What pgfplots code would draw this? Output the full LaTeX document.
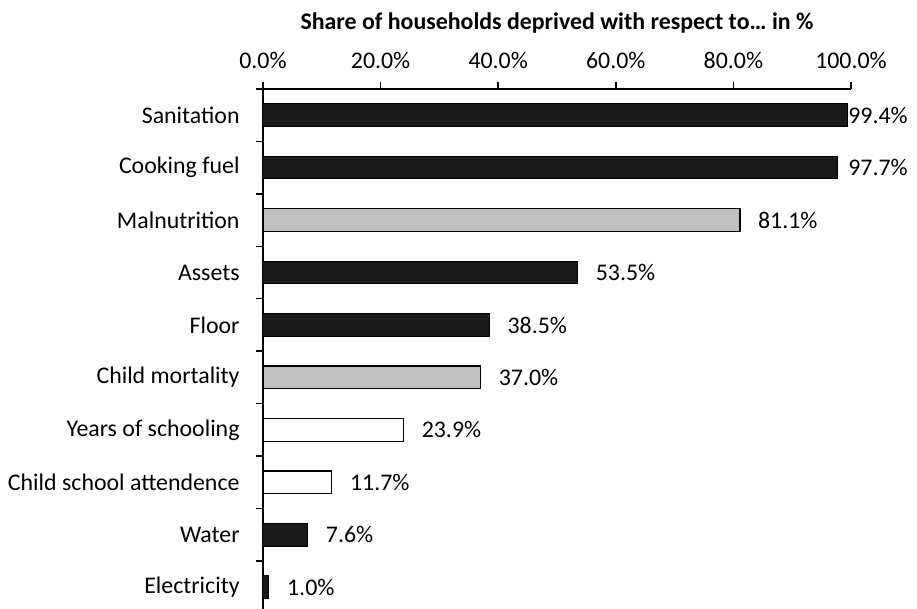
\documentclass[border=0pt]{standalone}
\usepackage{fontspec}
\setmainfont{Carlito}
\usepackage{pgfplots}
\pgfplotsset{compat=1.18}
\definecolor{barblack}{HTML}{1A1A1A}
\definecolor{bargray}{HTML}{BFBFBF}
\begin{document}
\fontsize{17.9}{21}\selectfont
\begin{tikzpicture}
\begin{axis}[
  at={(0,0)}, anchor=south west,
  scale only axis, width=441pt, height=390pt,
  xmin=0, xmax=100, ymin=-0.416, ymax=9.5,
  clip=false,
  axis x line*=top, axis y line*=left,
  axis line style={line width=1.1pt, black},
  every tick/.style={line width=1.1pt, black},
  tick align=outside,
  major tick length=5.6pt,
  /pgf/number format/assume math mode=true,
  xtick={0,20,40,60,80,100},
  xticklabels={0.0\%,20.0\%,40.0\%,60.0\%,80.0\%,100.0\%},
  xticklabel style={anchor=base, yshift=9.4pt},
  ytick={0.5,1.5,...,9.5},
  yticklabels={},
  extra y ticks={0,1,2,3,4,5,6,7,8,9},
  extra y tick labels={Electricity, Water, Child school attendence, Years of schooling, Child mortality, Floor, Assets, Malnutrition, Cooking fuel, Sanitation},
  extra y tick style={major tick length=0pt, yticklabel style={anchor=east, xshift=-11.4pt}},
]
\addplot[xbar, bar width=17pt, bar shift=0pt, fill=barblack, draw=black, line width=0.75pt]
  coordinates {(99.4,9) (97.7,8) (53.5,6) (38.5,5) (7.6,1) (1.0,0)};
\addplot[xbar, bar width=17pt, bar shift=0pt, fill=bargray, draw=black, line width=1pt]
  coordinates {(81.1,7) (37.0,4)};
\addplot[xbar, bar width=17pt, bar shift=0pt, fill=white, draw=black, line width=1pt]
  coordinates {(23.9,3) (11.7,2)};
% value labels, right of the bars
\addplot[draw=none, mark=none, point meta=explicit,
  nodes near coords={\pgfmathprintnumber[fixed,fixed zerofill,precision=1]{\pgfplotspointmeta}\%},
  nodes near coords style={anchor=west, inner sep=0pt}]
  table[x=x, y=y, meta=v] {
x y v
84.16 7 81.1
56.56 6 53.5
41.56 5 38.5
40.06 4 37.0
26.96 3 23.9
14.76 2 11.7
10.66 1 7.6
4.06 0 1.0
};
\addplot[draw=none, mark=none, point meta=explicit,
  nodes near coords={\pgfmathprintnumber[fixed,fixed zerofill,precision=1]{\pgfplotspointmeta}\%},
  nodes near coords style={anchor=east, inner sep=0pt}]
  table[x=x, y=y, meta=v] {
x y v
109.7 9 99.4
109.7 8 97.7
};
\node[anchor=base, font=\bfseries, yshift=44.25pt] at (rel axis cs:0.5,1)
  {Share of households deprived with respect to… in \%};
\end{axis}
\pgfresetboundingbox
\path[use as bounding box] (-197.25pt,0pt) rectangle (490.5pt,456.75pt);
\end{tikzpicture}
\end{document}
